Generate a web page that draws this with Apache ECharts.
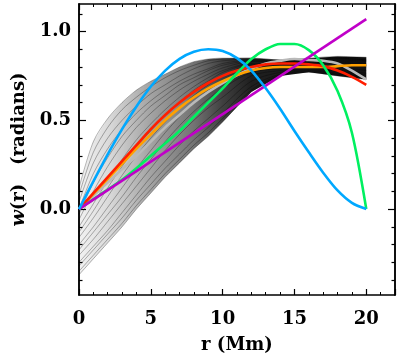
<!DOCTYPE html>
<html>
<head>
<meta charset="utf-8">
<script src="https://cdn.jsdelivr.net/npm/echarts@6/dist/echarts.min.js"></script>
<style>
  html, body { margin: 0; padding: 0; background: #fff; }
  #chart { width: 399px; height: 359px; }
</style>
</head>
<body>
<div id="chart"></div>
<script>
// radius grid (Mm) used for the fan of black curves
const rFan = [0, 1, 2, 3, 4, 5, 6, 7, 8, 9, 10, 12, 14, 16, 18, 20];
// fan of black curves, top to bottom
const fanCurves = [
  [0.12, 0.38, 0.51, 0.60, 0.67, 0.72, 0.76, 0.80, 0.83, 0.845, 0.85, 0.85, 0.84, 0.85, 0.86, 0.855],
  [0.08, 0.32, 0.46, 0.56, 0.63, 0.69, 0.74, 0.78, 0.81, 0.835, 0.845, 0.85, 0.84, 0.845, 0.855, 0.85],
  [0.04, 0.26, 0.40, 0.50, 0.58, 0.65, 0.70, 0.75, 0.79, 0.82, 0.835, 0.845, 0.835, 0.84, 0.85, 0.84],
  [0.0, 0.20, 0.34, 0.45, 0.54, 0.61, 0.67, 0.72, 0.76, 0.79, 0.82, 0.84, 0.835, 0.84, 0.85, 0.84],
  [-0.03, 0.15, 0.29, 0.41, 0.50, 0.58, 0.64, 0.70, 0.74, 0.78, 0.81, 0.835, 0.83, 0.835, 0.845, 0.835],
  [-0.06, 0.10, 0.24, 0.36, 0.46, 0.54, 0.61, 0.67, 0.72, 0.76, 0.795, 0.83, 0.83, 0.835, 0.84, 0.83],
  [-0.10, 0.03, 0.16, 0.28, 0.39, 0.48, 0.56, 0.63, 0.69, 0.74, 0.78, 0.82, 0.82, 0.83, 0.835, 0.82],
  [-0.13, -0.01, 0.12, 0.24, 0.35, 0.44, 0.53, 0.60, 0.67, 0.72, 0.77, 0.815, 0.815, 0.825, 0.83, 0.81],
  [-0.16, -0.05, 0.07, 0.19, 0.30, 0.40, 0.49, 0.57, 0.64, 0.70, 0.75, 0.81, 0.81, 0.82, 0.825, 0.80],
  [-0.20, -0.10, 0.01, 0.12, 0.23, 0.33, 0.43, 0.52, 0.60, 0.67, 0.72, 0.79, 0.80, 0.81, 0.80, 0.78],
  [-0.23, -0.13, -0.03, 0.07, 0.18, 0.28, 0.38, 0.47, 0.55, 0.62, 0.68, 0.77, 0.79, 0.80, 0.785, 0.765],
  [-0.26, -0.17, -0.07, 0.03, 0.13, 0.23, 0.33, 0.42, 0.50, 0.57, 0.63, 0.75, 0.78, 0.79, 0.775, 0.755],
  [-0.30, -0.21, -0.12, -0.02, 0.08, 0.18, 0.27, 0.36, 0.44, 0.51, 0.58, 0.72, 0.77, 0.785, 0.765, 0.745],
  [-0.32, -0.23, -0.14, -0.05, 0.05, 0.14, 0.23, 0.31, 0.39, 0.46, 0.54, 0.69, 0.76, 0.78, 0.76, 0.74],
  [-0.35, -0.26, -0.17, -0.08, 0.02, 0.11, 0.20, 0.28, 0.36, 0.43, 0.51, 0.67, 0.755, 0.775, 0.755, 0.735],
  [-0.37, -0.28, -0.19, -0.10, 0.0, 0.09, 0.18, 0.26, 0.34, 0.41, 0.49, 0.66, 0.75, 0.77, 0.75, 0.73]
];

// coloured curves, sampled every 1 Mm
const rCol = [0, 1, 2, 3, 4, 5, 6, 7, 8, 9, 10, 11, 12, 13, 14, 15, 16, 17, 18, 19, 20];
const blueW   = [0, 0.156, 0.308, 0.45, 0.578, 0.69, 0.78, 0.846, 0.886, 0.90, 0.89, 0.85, 0.78, 0.68, 0.565, 0.44, 0.32, 0.205, 0.105, 0.035, 0.0];
const greenW  = [0, 0.055, 0.11, 0.165, 0.23, 0.30, 0.37, 0.44, 0.52, 0.60, 0.68, 0.765, 0.845, 0.90, 0.93, 0.93, 0.895, 0.81, 0.665, 0.43, 0.0];
const redW    = [0, 0.09, 0.18, 0.27, 0.36, 0.45, 0.53, 0.60, 0.66, 0.71, 0.75, 0.78, 0.80, 0.815, 0.82, 0.82, 0.815, 0.805, 0.78, 0.745, 0.70];
const orangeW = [0, 0.085, 0.17, 0.255, 0.34, 0.42, 0.50, 0.57, 0.63, 0.68, 0.72, 0.755, 0.78, 0.795, 0.80, 0.80, 0.80, 0.80, 0.805, 0.81, 0.81];
const grayW   = [0, 0.075, 0.15, 0.225, 0.30, 0.38, 0.46, 0.53, 0.60, 0.66, 0.71, 0.755, 0.79, 0.82, 0.835, 0.845, 0.84, 0.835, 0.82, 0.78, 0.73];
// straight magenta line
const rLine = [0, 20];
const magentaW = [0, 1.07];

const xTicks = [0, 5, 10, 15, 20];
const yTicks = [0.0, 0.5, 1.0];
const yMinorTicks = [-0.4, -0.3, -0.2, -0.1, 0.1, 0.2, 0.3, 0.4, 0.6, 0.7, 0.8, 0.9, 1.1];

const X_MIN = 0, X_MAX = 22;
const Y_MIN = -0.484, Y_MAX = 1.155;

const zip = (xs, ys) => xs.map((x, i) => [x, ys[i]]);
const font = 'DejaVu Serif';
const axisColor = '#000';

let myChart = echarts.init(document.getElementById('chart'));

const series = [];

// shaded band between the outer black curves, darker towards larger r
const fanTop = fanCurves[0];
const fanBottom = fanCurves[fanCurves.length - 1];
series.push({
  type: 'custom', silent: true, clip: true,
  data: [[0, 0]],
  renderItem: function (params, api) {
    const pts = [];
    rFan.forEach((r, i) => pts.push(api.coord([r, fanTop[i]])));
    for (let i = rFan.length - 1; i >= 0; i--) pts.push(api.coord([rFan[i], fanBottom[i]]));
    return {
      type: 'polygon',
      shape: { points: pts },
      style: {
        fill: new echarts.graphic.LinearGradient(0, 0, 1, 0, [
          { offset: 0, color: 'rgba(0,0,0,0.05)' },
          { offset: 0.1, color: 'rgba(0,0,0,0.14)' },
          { offset: 0.25, color: 'rgba(0,0,0,0.36)' },
          { offset: 0.4, color: 'rgba(0,0,0,0.55)' },
          { offset: 0.5, color: 'rgba(0,0,0,0.75)' },
          { offset: 0.6, color: 'rgba(0,0,0,0.88)' },
          { offset: 1, color: 'rgba(0,0,0,0.93)' }
        ])
      }
    };
  }
});
fanCurves.forEach((c) => {
  series.push({
    type: 'line', smooth: 0.3, symbol: 'none', silent: true,
    data: zip(rFan, c),
    lineStyle: { width: 0.6, color: 'rgba(0,0,0,0.5)' }
  });
});

const coloured = [
  [grayW, '#b9b9b9'],
  [orangeW, '#ffa000'],
  [redW, '#ff1e00'],
  [greenW, '#00f060']
];
coloured.forEach(([w, col]) => {
  series.push({
    type: 'line', smooth: 0.3, symbol: 'none', silent: true,
    data: zip(rCol, w), lineStyle: { width: 2.6, color: col }
  });
});
series.push({
  type: 'line', symbol: 'none', silent: true,
  data: zip(rLine, magentaW), lineStyle: { width: 2.6, color: '#c000c8' }
});
series.push({
  type: 'line', smooth: 0.3, symbol: 'none', silent: true,
  data: zip(rCol, blueW), lineStyle: { width: 2.6, color: '#00a8ff' }
});

const lineStyle = { color: axisColor, width: 1.5 };

function xAx (pos, withLabels) {
  return {
    type: 'value', position: pos, min: X_MIN, max: X_MAX, interval: 5,
    axisLine: { show: true, onZero: false, lineStyle },
    axisTick: { show: true, inside: true, length: 6, lineStyle: { color: axisColor, width: 1.2 } },
    minorTick: { show: true, splitNumber: 5, length: 3, lineStyle: { color: axisColor, width: 1 } },
    axisLabel: {
      show: withLabels, margin: 15, color: '#000', fontFamily: font, fontWeight: 'bold', fontSize: 18,
      formatter: (v) => (xTicks.indexOf(v) >= 0 ? String(v) : '')
    },
    splitLine: { show: false },
    name: withLabels ? 'r (Mm)' : '', nameLocation: 'middle', nameGap: 41,
    nameTextStyle: { color: '#000', fontFamily: font, fontWeight: 'bold', fontSize: 18 }
  };
}

function yAx (pos, values, len, withLabels) {
  return {
    type: 'value', position: pos, min: Y_MIN, max: Y_MAX,
    axisLine: { show: true, onZero: false, lineStyle },
    axisTick: { show: true, inside: true, length: len, customValues: values, lineStyle: { color: axisColor, width: 1.2 } },
    axisLabel: {
      show: withLabels, customValues: values, margin: 8, color: '#000',
      fontFamily: font, fontWeight: 'bold', fontSize: 18,
      formatter: (v) => v.toFixed(1)
    },
    splitLine: { show: false },
    name: withLabels ? '{i|w}(r)   (radians)' : '', nameLocation: 'middle', nameGap: 46,
    nameTextStyle: {
      color: '#000', fontFamily: font, fontWeight: 'bold', fontSize: 18,
      rich: { i: { fontFamily: font, fontStyle: 'italic', fontWeight: 'bold', fontSize: 19, color: '#000' } }
    }
  };
}

myChart.setOption({
  animation: false,
  backgroundColor: '#fff',
  grid: { left: 79, right: 4, top: 4, bottom: 62 },
  xAxis: [xAx('bottom', true), xAx('top', false)],
  yAxis: [
    yAx('left', yTicks, 7, true),
    yAx('left', yMinorTicks, 3.5, false),
    yAx('right', yTicks, 7, false),
    yAx('right', yMinorTicks, 3.5, false)
  ],
  series: series
});
window.addEventListener('resize', function () { myChart.resize(); });
</script>
</body>
</html>
